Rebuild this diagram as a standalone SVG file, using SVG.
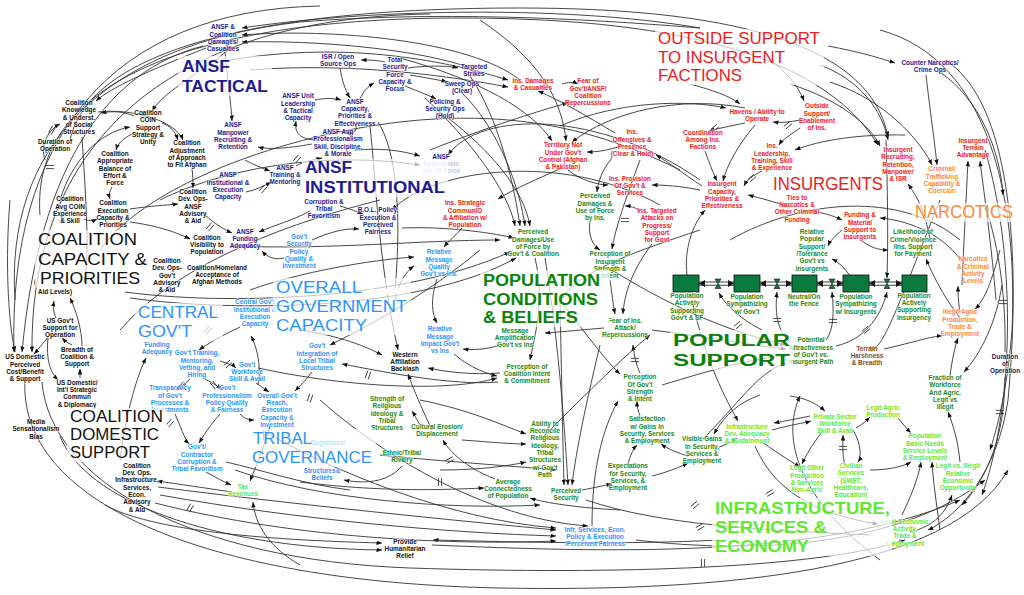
<svg xmlns="http://www.w3.org/2000/svg" width="1024" height="595" viewBox="0 0 1024 595">
<defs>
<marker id="a" viewBox="0 0 10 8" refX="10" refY="4" markerWidth="5.5" markerHeight="4.4" markerUnits="userSpaceOnUse" orient="auto"><path d="M0,0 L10,4 L0,8 z" fill="#111"/></marker>
<path id="dm" d="M-1.6,-4 L-1.6,4 M1.6,-4 L1.6,4"/>
<style>
#connectors path,#connectors use{fill:none;stroke:#333;stroke-width:.9;marker-end:url(#a)}
#connectors .n{marker-end:none}
#connectors use{marker-end:none;stroke:#222;stroke-width:.8}
text{font-family:"Liberation Sans",Arial,Helvetica,sans-serif}
.t{font-size:6.4px;font-weight:bold;text-anchor:middle;paint-order:stroke;stroke:#fff;stroke-width:1.6;stroke-opacity:.6;stroke-linejoin:round}
.k{fill:#111}.nv{fill:#1c1c94}.r{fill:#ee2020}.o{fill:#ff8833}.b{fill:#2b95ff}.g{fill:#178a17}.lg{fill:#5fe830}.br{fill:#8b4a1a}
.fb{fill:#c4c4e6}.fw{fill:#dfe8f2}
.tb{fill:#fff;fill-opacity:.68}
.T{font-size:17px}.TB{font-size:17px;font-weight:bold}
.stock{fill:#0b7a3e;stroke:#111;stroke-width:.8}
.pipe{fill:#fff;stroke:#111;stroke-width:.8}
.valve{fill:#0b7a3e;stroke:#111;stroke-width:.6}
</style>
</defs>
<rect width="1024" height="595" fill="#fff"/>

<g id="connectors">
<path d="M700 28 C560 4,360 10,242 28"/>
<path d="M520 80 C470 40,330 28,242 35"/>
<path d="M465 66 C410 48,310 40,242 42"/>
<path d="M203 46 C110 70,40 160,22 352"/>
<path d="M206 48 C150 70,110 88,96 101"/>
<path d="M228 50 C205 70,165 90,152 111"/>
<path d="M225 52 C228 80,231 105,232 121"/>
<path d="M320 6 C110 10,8 140,14 352"/>
<path d="M430 14 C160 18,30 150,32 352"/>
<path d="M70 140 C90 50,260 8,520 8 C720 8,870 40,888 137"/>
<path d="M40 215 C30 80,200 18,460 18 C660 18,820 50,878 145"/>
<path class="n" d="M15 300 C5 150,100 45,300 22 C450 10,600 20,700 28"/>
<path d="M25 380 C18 500,200 582,500 588 C720 592,950 572,1008 470"/>
<path d="M42 382 C50 480,190 560,410 568 C620 575,820 568,905 540"/>
<path d="M60 436 C85 500,210 548,382 550"/>
<path d="M105 505 C150 530,260 540,382 543"/>
<path d="M432 545 C600 552,820 560,960 500"/>
<path d="M720 540 C620 545,520 542,433 540"/>
<path d="M158 487 C300 505,450 520,556 530"/>
<path d="M160 495 C300 520,450 533,556 536"/>
<path d="M155 503 C300 540,460 545,556 541"/>
<path d="M232 492 C205 488,178 484,157 481"/>
<path d="M300 565 C270 548,255 525,253 502"/>
<path d="M636 540 C760 555,900 545,985 480"/>
<path d="M945 60 C1010 100,1022 250,1008 400 C998 470,960 515,928 530"/>
<path d="M880 30 C990 60,1018 200,1012 330 C1008 380,1000 420,990 450"/>
<path d="M985 150 C1015 250,1016 400,982 495"/>
<path d="M1005 352 C1006 300,1000 250,985 205"/>
<path d="M1005 377 C1005 420,995 470,962 505"/>
<path d="M940 72 C980 100,1000 150,1003 195"/>
<path d="M828 46 C860 52,880 58,895 63"/>
<path d="M926 75 C930 110,935 145,937 165"/>
<path d="M690 84 C712 90,730 96,740 104"/>
<path d="M770 60 C790 75,800 90,804 101"/>
<path d="M820 65 C860 80,882 110,888 140"/>
<path d="M790 84 C840 100,870 125,880 146"/>
<path d="M905 135 C860 134,820 140,795 150"/>
<path d="M962 285 C964 240,966 200,968 161"/>
<path d="M996 300 C992 250,985 200,980 161"/>
<path d="M830 82 C885 100,920 140,932 165"/>
<path d="M930 240 C925 210,916 195,908 184"/>
<path d="M1000 250 C992 280,985 300,975 309"/>
<path d="M800 120 C790 122,782 123,773 122"/>
<path d="M800 128 C790 135,782 140,779 145"/>
<path d="M745 123 C730 126,716 129,709 131"/>
<path d="M755 125 C738 145,727 165,723 181"/>
<path d="M705 151 C710 165,714 175,717 181"/>
<path d="M762 171 C752 176,747 180,744 186"/>
<path d="M700 190 C680 186,665 185,652 185"/>
<path d="M702 186 C684 174,668 162,656 155"/>
<path d="M618 147 C605 151,595 152,587 152"/>
<path d="M612 158 C602 170,598 182,597 192"/>
<path d="M568 170 C580 180,598 185,608 185"/>
<path d="M615 133 C590 118,560 100,538 91"/>
<path d="M562 84 C568 82,574 82,578 84"/>
<path d="M430 150 C480 130,540 110,568 103"/>
<path d="M400 58 C480 80,532 110,552 141"/>
<path d="M480 20 C540 60,562 100,566 141"/>
<path d="M745 108 C680 95,610 112,572 142"/>
<path d="M560 126 C620 100,690 100,726 108"/>
<path d="M230 60 C350 40,450 62,508 80"/>
<path d="M250 70 C350 62,450 76,508 87"/>
<path d="M640 211 C635 207,630 206,625 206"/>
<path d="M790 207 C775 202,760 198,748 195"/>
<path d="M817 212 C828 214,836 217,842 220"/>
<path d="M960 259 C940 232,905 220,880 218"/>
<path d="M862 241 C870 247,878 250,888 250"/>
<path d="M842 230 C835 236,830 241,828 246"/>
<path d="M960 318 C946 300,935 280,926 259"/>
<path d="M850 276 C845 268,838 262,832 259"/>
<path d="M886 140 C888 200,888 248,887 278"/>
<path d="M687 275 C684 250,692 225,705 210"/>
<path d="M762 330 C742 320,726 306,719 293"/>
<path d="M790 342 C776 330,775 310,777 292"/>
<path d="M826 340 C834 330,834 310,832 292"/>
<path d="M836 346 C862 340,880 320,887 292"/>
<path d="M652 330 C700 336,750 345,786 349"/>
<path d="M662 385 C712 370,752 358,786 356"/>
<path d="M702 440 C740 402,758 372,786 363"/>
<path d="M884 349 C915 342,932 336,942 336"/>
<path d="M960 312 C958 300,958 293,958 286"/>
<path d="M950 376 C952 360,955 346,958 338"/>
<path d="M1002 285 C996 322,982 352,964 372"/>
<path d="M960 462 C958 440,953 425,948 412"/>
<path d="M870 470 C890 470,904 466,911 462"/>
<path d="M902 515 C910 498,918 480,921 462"/>
<path d="M940 530 C936 500,933 480,932 462"/>
<path d="M898 418 C904 425,908 430,911 433"/>
<path d="M856 428 C862 425,867 420,870 417"/>
<path d="M790 396 C805 398,816 403,825 411"/>
<path d="M845 465 C842 455,843 445,843 435"/>
<path d="M853 430 C862 445,861 458,858 462"/>
<path d="M762 442 C780 455,795 464,800 467"/>
<path d="M772 430 C790 425,804 423,811 421"/>
<path d="M810 416 C796 419,785 421,774 423"/>
<path d="M822 432 C812 445,806 455,802 464"/>
<path d="M755 446 C770 480,800 512,878 524"/>
<path d="M910 532 C935 526,946 512,952 495"/>
<path d="M719 447 C726 445,733 441,737 438"/>
<path d="M692 300 C705 360,726 400,738 421"/>
<path d="M760 395 C740 402,725 414,714 434"/>
<path d="M688 456 C678 453,668 449,661 444"/>
<path d="M628 464 C630 456,633 449,637 445"/>
<path d="M640 416 C638 411,637 406,637 401"/>
<path d="M652 476 C668 472,680 467,688 463"/>
<path d="M582 490 C598 487,606 485,612 484"/>
<path d="M560 300 C562 400,563 450,564 485"/>
<path d="M545 258 C560 350,566 450,568 485"/>
<path d="M600 345 C582 420,575 460,572 485"/>
<path d="M420 400 C470 410,502 425,526 434"/>
<path d="M462 440 C490 442,510 444,526 444"/>
<path d="M440 470 C480 470,508 466,526 462"/>
<path d="M620 510 C580 508,545 503,530 498"/>
<path d="M495 479 C472 470,452 456,443 440"/>
<path d="M420 425 C416 418,414 414,412 411"/>
<path d="M402 466 C390 480,370 485,344 480"/>
<path d="M380 455 C450 462,500 465,556 470"/>
<path d="M300 482 C380 492,440 490,484 488"/>
<path d="M470 76 C500 120,515 190,520 226"/>
<path d="M462 93 C500 130,520 190,525 226"/>
<path d="M448 118 C490 150,524 190,530 226"/>
<path d="M425 98 C470 140,508 190,515 226"/>
<path d="M590 221 C588 235,592 245,600 250"/>
<path d="M610 280 C612 294,613 304,615 314"/>
<path d="M652 244 C632 270,624 295,623 314"/>
<path d="M640 373 C636 365,634 355,633 345"/>
<path d="M560 300 C590 340,610 365,620 374"/>
<path d="M604 328 C580 330,560 332,545 333"/>
<path d="M500 345 C485 350,472 350,463 349"/>
<path d="M535 258 C545 300,535 335,530 360"/>
<path d="M500 373 C472 375,446 372,428 368"/>
<path d="M258 368 C350 388,450 392,497 378"/>
<path d="M498 382 C452 386,385 372,342 364"/>
<path d="M454 354 C470 368,488 374,497 376"/>
<path d="M437 279 C430 300,432 314,437 323"/>
<path d="M462 228 C455 236,448 242,444 247"/>
<path d="M250 290 C300 272,370 260,414 257"/>
<path d="M395 300 C398 285,405 272,414 266"/>
<path d="M300 330 C340 336,365 346,382 355"/>
<path d="M432 430 C420 405,412 385,408 374"/>
<path d="M402 228 C450 226,498 234,514 238"/>
<path d="M125 292 C220 305,400 302,510 252"/>
<path d="M130 298 C230 312,420 312,516 258"/>
<path d="M232 246 C330 250,420 240,500 240"/>
<path d="M385 62 C376 60,368 60,361 60"/>
<path d="M408 68 C430 65,450 66,458 68"/>
<path d="M410 75 C427 78,440 80,447 82"/>
<path d="M405 86 C420 92,430 96,436 99"/>
<path d="M360 99 C363 92,367 87,374 83"/>
<path d="M340 68 C342 80,345 90,350 98"/>
<path d="M315 100 C325 98,334 98,341 100"/>
<path d="M318 140 C300 140,294 133,296 121"/>
<path d="M356 126 C357 132,352 134,346 133"/>
<path d="M312 144 C290 148,270 150,258 147"/>
<path d="M245 160 C254 165,262 168,270 171"/>
<path d="M296 166 C302 162,312 160,322 158"/>
<path d="M246 192 C256 190,264 186,271 182"/>
<path d="M355 150 C380 148,400 150,420 156"/>
<path d="M340 206 C350 209,358 212,363 214"/>
<path d="M310 211 C294 220,272 226,259 232"/>
<path d="M284 258 C275 260,268 258,262 251"/>
<path d="M312 240 C330 232,345 228,359 229"/>
<path d="M370 126 C376 180,378 260,398 350"/>
<path class="n" d="M378 122 C396 150,402 210,395 290"/>
<path d="M205 215 C215 224,225 230,232 233"/>
<path d="M45 160 C40 145,48 130,60 124"/>
<path d="M98 112 C130 108,175 120,183 140"/>
<path d="M134 116 C122 111,112 111,101 113"/>
<path d="M162 123 C170 126,175 131,178 140"/>
<path d="M132 134 C124 138,118 143,116 150"/>
<path d="M60 200 C72 160,100 132,130 127"/>
<path d="M112 187 C109 192,109 196,110 199"/>
<path d="M192 169 C193 176,193 183,193 188"/>
<path d="M84 219 C88 221,93 221,97 219"/>
<path d="M130 209 C150 206,168 205,178 204"/>
<path d="M130 222 C160 226,180 234,190 239"/>
<path d="M50 335 C42 344,37 351,34 354"/>
<path d="M72 345 C68 343,64 340,62 338"/>
<path d="M56 318 C53 311,53 307,54 301"/>
<path d="M82 346 C82 330,76 310,70 298"/>
<path d="M80 378 C80 375,80 372,80 369"/>
<path d="M48 338 C46 360,50 372,58 380"/>
<path d="M120 460 C125 420,135 380,146 358"/>
<path d="M82 137 C86 200,90 260,84 283"/>
<path d="M10 200 C5 260,8 320,15 352"/>
<path d="M220 361 C227 363,234 366,236 368"/>
<path d="M190 379 C185 384,179 388,176 390"/>
<path d="M205 379 C214 384,219 387,222 389"/>
<path d="M240 327 C225 334,207 344,199 350"/>
<path d="M258 385 C262 365,256 345,251 336"/>
<path d="M175 414 C180 425,185 440,189 444"/>
<path d="M220 414 C210 425,202 438,199 443"/>
<path d="M206 472 C215 477,224 482,231 485"/>
<path d="M270 426 C263 450,256 466,250 481"/>
<path class="n" d="M226 462 C262 470,302 484,350 490"/>
<path d="M256 383 C262 387,266 390,269 392"/>
<path d="M312 372 C306 380,300 386,295 391"/>
<path d="M240 414 C244 418,248 420,254 420"/>
<path d="M700 180 C600 110,480 110,448 155"/>
<path d="M660 205 C560 150,430 170,392 210"/>
<path d="M262 430 C330 470,450 520,556 528"/>
<path d="M235 470 C320 500,450 510,540 505"/>
<path d="M320 400 C400 470,500 520,588 526"/>
<path d="M592 526 C592 470,602 430,618 401"/>
<path class="n" d="M586 500 C660 525,760 530,870 535"/>
<path d="M612 270 C660 300,720 330,786 345"/>
<path d="M562 168 C535 180,512 190,498 199"/>
<path d="M640 160 C625 200,615 230,612 249"/>
<path class="n" d="M100 250 C150 180,300 130,420 120 C520 112,600 130,680 170"/>
<path class="n" d="M120 330 C180 260,300 220,380 200"/>
<path d="M160 200 C220 170,320 150,420 165"/>
<path d="M480 250 C420 300,360 330,330 345"/>
<path d="M700 230 C640 250,580 270,560 300"/>
<path d="M540 440 C580 400,620 360,650 335"/>
<path class="n" d="M730 240 C800 200,900 190,960 240"/>
<path d="M880 560 C800 500,780 440,800 396"/>
<path d="M940 200 C900 300,880 360,870 346"/>
<rect class="pipe" x="699" y="282" width="35" height="3.2"/>
<rect class="pipe" x="760" y="282" width="32" height="3.2"/>
<rect class="pipe" x="817" y="282" width="26" height="3.2"/>
<rect class="pipe" x="869" y="282" width="33" height="3.2"/>
<path style="stroke:none;marker-end:none;fill:#111" d="M699 283.6 l6 -3.5 v7z M734 283.6 l-6 -3.5 v7z M760 283.6 l6 -3.5 v7z M792 283.6 l-6 -3.5 v7z M817 283.6 l6 -3.5 v7z M843 283.6 l-6 -3.5 v7z M869 283.6 l6 -3.5 v7z M902 283.6 l-6 -3.5 v7z"/>
<use href="#dm" transform="translate(52,130) rotate(30)"/>
<use href="#dm" transform="translate(50,167) rotate(90)"/>
<use href="#dm" transform="translate(210,227) rotate(40)"/>
<use href="#dm" transform="translate(297,159) rotate(40)"/>
<use href="#dm" transform="translate(263,189) rotate(40)"/>
<use href="#dm" transform="translate(208,330) rotate(40)"/>
<use href="#dm" transform="translate(228,364) rotate(50)"/>
<use href="#dm" transform="translate(182,386) rotate(40)"/>
<use href="#dm" transform="translate(214,385) rotate(-40)"/>
<use href="#dm" transform="translate(170,423) rotate(40)"/>
<use href="#dm" transform="translate(190,508) rotate(30)"/>
<use href="#dm" transform="translate(368,375) rotate(20)"/>
<use href="#dm" transform="translate(310,398) rotate(20)"/>
<use href="#dm" transform="translate(265,436) rotate(0)"/>
<use href="#dm" transform="translate(715,128) rotate(50)"/>
<use href="#dm" transform="translate(788,125) rotate(50)"/>
<use href="#dm" transform="translate(752,178) rotate(50)"/>
<use href="#dm" transform="translate(625,220) rotate(90)"/>
<use href="#dm" transform="translate(635,360) rotate(90)"/>
<use href="#dm" transform="translate(738,325) rotate(50)"/>
<use href="#dm" transform="translate(777,320) rotate(90)"/>
<use href="#dm" transform="translate(833,321) rotate(90)"/>
<use href="#dm" transform="translate(866,330) rotate(50)"/>
<use href="#dm" transform="translate(1003,302) rotate(90)"/>
<use href="#dm" transform="translate(450,460) rotate(60)"/>
<use href="#dm" transform="translate(440,482) rotate(0)"/>
<use href="#dm" transform="translate(695,505) rotate(50)"/>
<use href="#dm" transform="translate(700,527) rotate(60)"/>
<use href="#dm" transform="translate(703,563) rotate(0)"/>
<use href="#dm" transform="translate(843,448) rotate(90)"/>
<use href="#dm" transform="translate(770,493) rotate(60)"/>
<use href="#dm" transform="translate(1000,412) rotate(90)"/>
</g>

<g id="stocks">
<g id="s_gov"><rect class="stock" x="673" y="275" width="26" height="17"/><text class="t g" x="687" y="298"><tspan x="687">Population</tspan><tspan x="687" dy="7.35">Actively</tspan><tspan x="687" dy="7.35">Supporting</tspan><tspan x="687" dy="7.35">Gov't &amp; SF</tspan></text></g>
<g id="s_symgov"><rect class="stock" x="734" y="275" width="26" height="17"/><text class="t g" x="747" y="299"><tspan x="747">Population</tspan><tspan x="747" dy="7.35">Sympathizing</tspan><tspan x="747" dy="7.35">w/ Gov't</tspan></text></g>
<g id="s_neutral"><rect class="stock" x="792" y="275" width="25" height="17"/><text class="t g" x="804" y="299"><tspan x="804">Neutral/On</tspan><tspan x="804" dy="7.35">the Fence</tspan></text></g>
<g id="s_symins"><rect class="stock" x="843" y="275" width="26" height="17"/><text class="t g" x="856" y="299"><tspan x="856">Population</tspan><tspan x="856" dy="7.35">Sympathizing</tspan><tspan x="856" dy="7.35">w/ Insurgents</tspan></text></g>
<g id="s_ins"><rect class="stock" x="902" y="275" width="25" height="17"/><text class="t g" x="914" y="297.5"><tspan x="914">Population</tspan><tspan x="914" dy="7.35">Actively</tspan><tspan x="914" dy="7.35">Supporting</tspan><tspan x="914" dy="7.35">Insurgency</tspan></text></g>
<polygon class="valve" points="715,279 721,279 715,288.5 721,288.5"/>
<polygon class="valve" points="774,279 780,279 774,288.5 780,288.5"/>
<polygon class="valve" points="829,279 835,279 829,288.5 835,288.5"/>
<polygon class="valve" points="884,279 890,279 884,288.5 890,288.5"/>
</g>

<g id="nodes">
<g id="n_ck"><text class="t k" x="79" y="104.8"><tspan x="79">Coalition</tspan><tspan x="79" dy="7.35">Knowledge</tspan><tspan x="79" dy="7.35">&amp; Underst.</tspan><tspan x="79" dy="7.35">of Social</tspan><tspan x="79" dy="7.35">Structures</tspan></text></g>
<g id="n_ccoin"><text class="t k" x="148" y="114.8"><tspan x="148">Coalition</tspan><tspan x="148" dy="7.35">COIN</tspan><tspan x="148" dy="7.35">Support</tspan><tspan x="148" dy="7.35">Strategy &amp;</tspan><tspan x="148" dy="7.35">Unity</tspan></text></g>
<g id="n_dur"><text class="t k" x="55" y="144.1"><tspan x="55">Duration of</tspan><tspan x="55" dy="7.35">Operation</tspan></text></g>
<g id="n_cab"><text class="t k" x="115" y="155.8"><tspan x="115">Coalition</tspan><tspan x="115" dy="7.35">Appropriate</tspan><tspan x="115" dy="7.35">Balance of</tspan><tspan x="115" dy="7.35">Effort &amp;</tspan><tspan x="115" dy="7.35">Force</tspan></text></g>
<g id="n_cadj"><text class="t k" x="187" y="145.2"><tspan x="187">Coalition</tspan><tspan x="187" dy="7.35">Adjustment</tspan><tspan x="187" dy="7.35">of Approach</tspan><tspan x="187" dy="7.35">to Fit Afghan</tspan></text></g>
<g id="n_cdoa"><text class="t k" x="193" y="193.8"><tspan x="193">Coalition</tspan><tspan x="193" dy="7.35">Dev. Ops-</tspan><tspan x="193" dy="7.35">ANSF</tspan><tspan x="193" dy="7.35">Advisory</tspan><tspan x="193" dy="7.35">&amp; Aid</tspan></text></g>
<g id="n_cavg"><text class="t k" x="70" y="201.2"><tspan x="70">Coalition</tspan><tspan x="70" dy="7.35">Avg COIN</tspan><tspan x="70" dy="7.35">Experience</tspan><tspan x="70" dy="7.35">&amp; Skill</tspan></text></g>
<g id="n_cexe"><text class="t k" x="113" y="205.2"><tspan x="113">Coalition</tspan><tspan x="113" dy="7.35">Execution</tspan><tspan x="113" dy="7.35">Capacity &amp;</tspan><tspan x="113" dy="7.35">Priorities</tspan></text></g>
<g id="n_cvis"><text class="t k" x="207" y="239.6"><tspan x="207">Coalition</tspan><tspan x="207" dy="7.35">Visibility to</tspan><tspan x="207" dy="7.35">Population</tspan></text></g>
<g id="n_cdog"><text class="t k" x="167" y="262.8"><tspan x="167">Coalition</tspan><tspan x="167" dy="7.35">Dev. Ops-</tspan><tspan x="167" dy="7.35">Gov't</tspan><tspan x="167" dy="7.35">Advisory</tspan><tspan x="167" dy="7.35">&amp; Aid</tspan></text></g>
<g id="n_chom"><text class="t k" x="217" y="269.6"><tspan x="217">Coalition/Homeland</tspan><tspan x="217" dy="7.35">Acceptance of</tspan><tspan x="217" dy="7.35">Afghan Methods</tspan></text></g>
<g id="n_aid"><text class="t k" x="35" y="284">(</text><text class="t k" x="55" y="294">Aid Levels)</text></g>
<g id="n_usg"><text class="t k" x="60" y="322.6"><tspan x="60">US Gov't</tspan><tspan x="60" dy="7.35">Support for</tspan><tspan x="60" dy="7.35">Operation</tspan></text></g>
<g id="n_brd"><text class="t k" x="77" y="351.7"><tspan x="77">Breadth of</tspan><tspan x="77" dy="7.35">Coalition &amp;</tspan><tspan x="77" dy="7.35">Support</tspan></text></g>
<g id="n_usd"><text class="t k" x="25" y="359.2"><tspan x="25">US Domestic</tspan><tspan x="25" dy="7.35">Perceived</tspan><tspan x="25" dy="7.35">Cost/Benefit</tspan><tspan x="25" dy="7.35">&amp; Support</tspan></text></g>
<g id="n_usdi"><text class="t k" x="77" y="384.5"><tspan x="77">US Domestic/</tspan><tspan x="77" dy="7.35">Int'l Strategic</tspan><tspan x="77" dy="7.35">Commun</tspan><tspan x="77" dy="7.35">&amp; Diplomacy</tspan></text></g>
<g id="n_med"><text class="t k" x="36" y="424"><tspan x="36">Media</tspan><tspan x="36" dy="7.35">Sensationalism</tspan><tspan x="36" dy="7.35">Bias</tspan></text></g>
<g id="n_cdoi"><text class="t k" x="137" y="467.5"><tspan x="137">Coalition</tspan><tspan x="137" dy="7.35">Dev. Ops.</tspan><tspan x="137" dy="7.35">Infrastructure,</tspan><tspan x="137" dy="7.35">Services,</tspan><tspan x="137" dy="7.35">Econ.</tspan><tspan x="137" dy="7.35">Advisory</tspan><tspan x="137" dy="7.35">&amp; Aid</tspan></text></g>
<g id="n_wab"><text class="t k" x="405" y="356.6"><tspan x="405">Western</tspan><tspan x="405" dy="7.35">Affiliation</tspan><tspan x="405" dy="7.35">Backlash</tspan></text></g>
<g id="n_hum"><text class="t k" x="405" y="543.6"><tspan x="405">Provide</tspan><tspan x="405" dy="7.35">Humanitarian</tspan><tspan x="405" dy="7.35">Relief</tspan></text></g>
<g id="n_dur2"><text class="t" style="fill:#22224f" x="1005" y="358.6"><tspan x="1005">Duration</tspan><tspan x="1005" dy="7.35">of</tspan><tspan x="1005" dy="7.35">Operation</tspan></text></g>

<g id="n_adc"><text class="t nv" x="223" y="29.2"><tspan x="223">ANSF &amp;</tspan><tspan x="223" dy="7.35">Coalition</tspan><tspan x="223" dy="7.35">Damages/</tspan><tspan x="223" dy="7.35">Casualties</tspan></text></g>
<g id="n_isr"><text class="t nv" x="338" y="59.1"><tspan x="338">ISR / Open</tspan><tspan x="338" dy="7.35">Source Ops</tspan></text></g>
<g id="n_tsf"><text class="t nv" x="395" y="61.8"><tspan x="395">Total</tspan><tspan x="395" dy="7.35">Security</tspan><tspan x="395" dy="7.35">Force</tspan><tspan x="395" dy="7.35">Capacity &amp;</tspan><tspan x="395" dy="7.35">Focus</tspan></text></g>
<g id="n_tgt"><text class="t nv" x="474" y="69.1"><tspan x="474">Targeted</tspan><tspan x="474" dy="7.35">Strikes</tspan></text></g>
<g id="n_swp"><text class="t nv" x="462" y="86.1"><tspan x="462">Sweep Ops</tspan><tspan x="462" dy="7.35">(Clear)</tspan></text></g>
<g id="n_pol"><text class="t nv" x="445" y="103.6"><tspan x="445">Policing &amp;</tspan><tspan x="445" dy="7.35">Security Ops</tspan><tspan x="445" dy="7.35">(Hold)</tspan></text></g>
<g id="n_aul"><text class="t nv" x="298" y="98.2"><tspan x="298">ANSF Unit</tspan><tspan x="298" dy="7.35">Leadership</tspan><tspan x="298" dy="7.35">&amp; Tactical</tspan><tspan x="298" dy="7.35">Capacity</tspan></text></g>
<g id="n_acap"><text class="t nv" x="355" y="103.5"><tspan x="355">ANSF</tspan><tspan x="355" dy="7.35">Capacity,</tspan><tspan x="355" dy="7.35">Priorities &amp;</tspan><tspan x="355" dy="7.35">Effectiveness</tspan></text></g>
<g id="n_apro"><text class="t nv" x="338" y="133.8"><tspan x="338">ANSF Avg</tspan><tspan x="338" dy="7.35">Professionalism</tspan><tspan x="338" dy="7.35">Skill, Discipline,</tspan><tspan x="338" dy="7.35">&amp; Morale</tspan></text></g>
<g id="n_atrn"><text class="t nv" x="285" y="169.6"><tspan x="285">ANSF</tspan><tspan x="285" dy="7.35">Training &amp;</tspan><tspan x="285" dy="7.35">Mentoring</tspan></text></g>
<g id="n_aman"><text class="t nv" x="233" y="127.2"><tspan x="233">ANSF</tspan><tspan x="233" dy="7.35">Manpower</tspan><tspan x="233" dy="7.35">Recruiting &amp;</tspan><tspan x="233" dy="7.35">Retention</tspan></text></g>
<g id="n_ains"><text class="t nv" x="228" y="177.2"><tspan x="228">ANSF</tspan><tspan x="228" dy="7.35">Institutional &amp;</tspan><tspan x="228" dy="7.35">Execution</tspan><tspan x="228" dy="7.35">Capacity</tspan></text></g>
<g id="n_aauf"><text class="t" x="441" y="158.6"><tspan class="nv" x="441">ANSF</tspan><tspan class="fb" x="441" dy="7.35">Appropriate</tspan><tspan class="fb" x="441" dy="7.35">Use of Force</tspan></text></g>
<g id="n_acor"><text class="t nv" x="324" y="203.6"><tspan x="324">Corruption &amp;</tspan><tspan x="324" dy="7.35">Tribal</tspan><tspan x="324" dy="7.35">Favoritism</tspan></text></g>
<g id="n_arol"><text class="t nv" x="378" y="212.2"><tspan x="378">R.O.L. Policy,</tspan><tspan x="378" dy="7.35">Execution &amp;</tspan><tspan x="378" dy="7.35">Perceived</tspan><tspan x="378" dy="7.35">Fairness</tspan></text></g>
<g id="n_afun"><text class="t nv" x="245" y="233.6"><tspan x="245">ANSF</tspan><tspan x="245" dy="7.35">Funding</tspan><tspan x="245" dy="7.35">Adequacy</tspan></text></g>
<g id="n_cn"><text class="t nv" x="930" y="65.1"><tspan x="930">Counter Narcotics/</tspan><tspan x="930" dy="7.35">Crime Ops</tspan></text></g>

<g id="n_idc"><text class="t r" x="533" y="83.1"><tspan x="533">Ins. Damages</tspan><tspan x="533" dy="7.35">&amp; Casualties</tspan></text></g>
<g id="n_fear"><text class="t r" x="588" y="83.2"><tspan x="588">Fear of</tspan><tspan x="588" dy="7.35">Gov't/ANSF/</tspan><tspan x="588" dy="7.35">Coalition</tspan><tspan x="588" dy="7.35">Repercussions</tspan></text></g>
<g id="n_hav"><text class="t r" x="757" y="114.1"><tspan x="757">Havens / Ability to</tspan><tspan x="757" dy="7.35">Operate</tspan></text></g>
<g id="n_out"><text class="t r" x="817" y="108.2"><tspan x="817">Outside</tspan><tspan x="817" dy="7.35">Support/</tspan><tspan x="817" dy="7.35">Enablement</tspan><tspan x="817" dy="7.35">of Ins.</tspan></text></g>
<g id="n_coord"><text class="t r" x="703" y="134.6"><tspan x="703">Coordination</tspan><tspan x="703" dy="7.35">Among Ins.</tspan><tspan x="703" dy="7.35">Factions</tspan></text></g>
<g id="n_ioff"><text class="t r" x="632" y="134.2"><tspan x="632">Ins.</tspan><tspan x="632" dy="7.35">Offensives &amp;</tspan><tspan x="632" dy="7.35">Presence</tspan><tspan x="632" dy="7.35">(Clear &amp; Hold)</tspan></text></g>
<g id="n_terr"><text class="t r" x="563" y="147.2"><tspan x="563">Territory Not</tspan><tspan x="563" dy="7.35">Under Gov't</tspan><tspan x="563" dy="7.35">Control (Afghan</tspan><tspan x="563" dy="7.35">&amp; Pakistan)</tspan></text></g>
<g id="n_iprov"><text class="t r" x="630" y="180.6"><tspan x="630">Ins. Provision</tspan><tspan x="630" dy="7.35">Of Gov't &amp;</tspan><tspan x="630" dy="7.35">Services</tspan></text></g>
<g id="n_icap"><text class="t r" x="722" y="186.2"><tspan x="722">Insurgent</tspan><tspan x="722" dy="7.35">Capacity,</tspan><tspan x="722" dy="7.35">Priorities &amp;</tspan><tspan x="722" dy="7.35">Effectiveness</tspan></text></g>
<g id="n_ilead"><text class="t r" x="772" y="148.2"><tspan x="772">Ins.</tspan><tspan x="772" dy="7.35">Leadership,</tspan><tspan x="772" dy="7.35">Training, Skill</tspan><tspan x="772" dy="7.35">&amp; Experience</tspan></text></g>
<g id="n_irec"><text class="t r" x="898" y="151.8"><tspan x="898">Insurgent</tspan><tspan x="898" dy="7.35">Recruiting,</tspan><tspan x="898" dy="7.35">Retention,</tspan><tspan x="898" dy="7.35">Manpower</tspan><tspan x="898" dy="7.35">&amp; ISR</tspan></text></g>
<g id="n_iter"><text class="t r" x="973" y="142.6"><tspan x="973">Insurgent</tspan><tspan x="973" dy="7.35">Terrain</tspan><tspan x="973" dy="7.35">Advantage</tspan></text></g>
<g id="n_ties"><text class="t r" x="797" y="199.5"><tspan x="797">Ties to</tspan><tspan x="797" dy="7.35">Narcotics &amp;</tspan><tspan x="797" dy="7.35">Other Criminal</tspan><tspan x="797" dy="7.35">Funding</tspan></text></g>
<g id="n_fund"><text class="t r" x="860" y="217.2"><tspan x="860">Funding &amp;</tspan><tspan x="860" dy="7.35">Material</tspan><tspan x="860" dy="7.35">Support to</tspan><tspan x="860" dy="7.35">Insurgents</tspan></text></g>
<g id="n_iatt"><text class="t r" x="657" y="212.8"><tspan x="657">Ins. Targeted</tspan><tspan x="657" dy="7.35">Attacks on</tspan><tspan x="657" dy="7.35">Progress/</tspan><tspan x="657" dy="7.35">Support</tspan><tspan x="657" dy="7.35">for Govt</tspan></text></g>
<g id="n_istr"><text class="t r" x="465" y="205.2"><tspan x="465">Ins. Strategic</tspan><tspan x="465" dy="7.35">CommunIO</tspan><tspan x="465" dy="7.35">&amp; Affiliation w/</tspan><tspan x="465" dy="7.35">Population</tspan></text></g>

<g id="n_crim"><text class="t o" x="942" y="171.2"><tspan x="942">Criminal/</tspan><tspan x="942" dy="7.35">Trafficking</tspan><tspan x="942" dy="7.35">Capability &amp;</tspan><tspan x="942" dy="7.35">Coercion</tspan></text></g>
<g id="n_narc"><text class="t o" x="973" y="261.2"><tspan x="973">Narcotics</tspan><tspan x="973" dy="7.35">&amp; Criminal</tspan><tspan x="973" dy="7.35">Activity</tspan><tspan x="973" dy="7.35">Levels</tspan></text></g>
<g id="n_illeg"><text class="t o" x="960" y="314.2"><tspan x="960">Illegit Agric</tspan><tspan x="960" dy="7.35">Production,</tspan><tspan x="960" dy="7.35">Trade &amp;</tspan><tspan x="960" dy="7.35">Employment</tspan></text></g>

<g id="n_pdi"><text class="t g" x="595" y="198.2"><tspan x="595">Perceived</tspan><tspan x="595" dy="7.35">Damages &amp;</tspan><tspan x="595" dy="7.35">Use of Force</tspan><tspan x="595" dy="7.35">by Ins.</tspan></text></g>
<g id="n_pdg"><text class="t g" x="533" y="234.2"><tspan x="533">Perceived</tspan><tspan x="533" dy="7.35">Damages/Use</tspan><tspan x="533" dy="7.35">of Force by</tspan><tspan x="533" dy="7.35">Gov't &amp; Coalition</tspan></text></g>
<g id="n_pins"><text class="t g" x="610" y="256.2"><tspan x="610">Perception of</tspan><tspan x="610" dy="7.35">Insurgent</tspan><tspan x="610" dy="7.35">Strength &amp;</tspan><tspan x="610" dy="7.35">Intent</tspan></text></g>
<g id="n_msg"><text class="t g" x="515" y="332.6"><tspan x="515">Message</tspan><tspan x="515" dy="7.35">Amplification</tspan><tspan x="515" dy="7.35">Gov't vs Ins</tspan></text></g>
<g id="n_pcol"><text class="t g" x="527" y="368.6"><tspan x="527">Perception of</tspan><tspan x="527" dy="7.35">Coalition Intent</tspan><tspan x="527" dy="7.35">&amp; Commitment</tspan></text></g>
<g id="n_feari"><text class="t g" x="625" y="322.6"><tspan x="625">Fear of Ins.</tspan><tspan x="625" dy="7.35">Attack/</tspan><tspan x="625" dy="7.35">Repercussions</tspan></text></g>
<g id="n_pgov"><text class="t g" x="640" y="379.2"><tspan x="640">Perception</tspan><tspan x="640" dy="7.35">Of Gov't</tspan><tspan x="640" dy="7.35">Strength</tspan><tspan x="640" dy="7.35">&amp; Intent</tspan></text></g>
<g id="n_rps"><text class="t g" x="812" y="234"><tspan x="812">Relative</tspan><tspan x="812" dy="7.35">Popular</tspan><tspan x="812" dy="7.35">Support/</tspan><tspan x="812" dy="7.35">/Tolerance</tspan><tspan x="812" dy="7.35">Gov't vs</tspan><tspan x="812" dy="7.35">Insurgents</tspan></text></g>
<g id="n_lik"><text class="t g" x="913" y="234.2"><tspan x="913">Likelihood of</tspan><tspan x="913" dy="7.35">Crime/Violence</tspan><tspan x="913" dy="7.35">/Ins. Support</tspan><tspan x="913" dy="7.35">for Payment</tspan></text></g>
<g id="n_pot"><text class="t g" x="811" y="342.2"><tspan x="811">Potential</tspan><tspan x="811" dy="7.35">Attractiveness</tspan><tspan x="811" dy="7.35">of Gov't vs.</tspan><tspan x="811" dy="7.35">Insurgent Path</tspan></text></g>
<g id="n_frac"><text class="t g" x="945" y="379.8"><tspan x="945">Fraction of</tspan><tspan x="945" dy="7.35">Workforce</tspan><tspan x="945" dy="7.35">And Agric.</tspan><tspan x="945" dy="7.35">Legit vs</tspan><tspan x="945" dy="7.35">Illegit</tspan></text></g>
<g id="n_srel"><text class="t g" x="387" y="400.8"><tspan x="387">Strength of</tspan><tspan x="387" dy="7.35">Religious</tspan><tspan x="387" dy="7.35">Ideology &amp;</tspan><tspan x="387" dy="7.35">Tribal</tspan><tspan x="387" dy="7.35">Structures</tspan></text></g>
<g id="n_cult"><text class="t g" x="437" y="429.1"><tspan x="437">Cultural Erosion/</tspan><tspan x="437" dy="7.35">Displacement</tspan></text></g>
<g id="n_eth"><text class="t g" x="402" y="455.1"><tspan x="402">Ethnic/Tribal</tspan><tspan x="402" dy="7.35">Rivalry</tspan></text></g>
<g id="n_abil"><text class="t g" x="545" y="425.5"><tspan x="545">Ability to</tspan><tspan x="545" dy="7.35">Reconcile</tspan><tspan x="545" dy="7.35">Religious</tspan><tspan x="545" dy="7.35">Ideology,</tspan><tspan x="545" dy="7.35">Tribal</tspan><tspan x="545" dy="7.35">Structures</tspan><tspan x="545" dy="7.35">w/ Gov't</tspan><tspan x="545" dy="7.35">Path</tspan></text></g>
<g id="n_psec"><text class="t g" x="566" y="493.1"><tspan x="566">Perceived</tspan><tspan x="566" dy="7.35">Security</tspan></text></g>
<g id="n_sat"><text class="t g" x="647" y="421.2"><tspan x="647">Satisfaction</tspan><tspan x="647" dy="7.35">w/ Gains in</tspan><tspan x="647" dy="7.35">Security, Services</tspan><tspan x="647" dy="7.35">&amp; Employment</tspan></text></g>
<g id="n_vis"><text class="t g" x="702" y="441.2"><tspan x="702">Visible Gains</tspan><tspan x="702" dy="7.35">In Security,</tspan><tspan x="702" dy="7.35">Services &amp;</tspan><tspan x="702" dy="7.35">Employment</tspan></text></g>
<g id="n_exp"><text class="t g" x="628" y="468.2"><tspan x="628">Expectations</tspan><tspan x="628" dy="7.35">for Security,</tspan><tspan x="628" dy="7.35">Services, &amp;</tspan><tspan x="628" dy="7.35">Employment</tspan></text></g>
<g id="n_avg"><text class="t g" x="508" y="483.6"><tspan x="508">Average</tspan><tspan x="508" dy="7.35">Connectedness</tspan><tspan x="508" dy="7.35">of Population</tspan></text></g>

<g id="n_cgi"><text class="t b" x="255" y="304.2"><tspan x="255">Central Gov't</tspan><tspan x="255" dy="7.35">Institutional &amp;</tspan><tspan x="255" dy="7.35">Execution</tspan><tspan x="255" dy="7.35">Capacity</tspan></text></g>
<g id="n_fadq"><text class="t b" x="157" y="346.5"><tspan x="157">Funding</tspan><tspan x="157" dy="7.35">Adequacy</tspan></text></g>
<g id="n_gtr"><text class="t b" x="197" y="355.2"><tspan x="197">Gov't Training,</tspan><tspan x="197" dy="7.35">Mentoring,</tspan><tspan x="197" dy="7.35">Vetting, and</tspan><tspan x="197" dy="7.35">Hiring</tspan></text></g>
<g id="n_gwf"><text class="t b" x="247" y="366.6"><tspan x="247">Gov't</tspan><tspan x="247" dy="7.35">Workforce</tspan><tspan x="247" dy="7.35">Skill &amp; Avail</tspan></text></g>
<g id="n_trn"><text class="t b" x="170" y="390.2"><tspan x="170">Transparency</tspan><tspan x="170" dy="7.35">of Gov't</tspan><tspan x="170" dy="7.35">Processes &amp;</tspan><tspan x="170" dy="7.35">Investments</tspan></text></g>
<g id="n_gpr"><text class="t b" x="227" y="390.2"><tspan x="227">Gov't</tspan><tspan x="227" dy="7.35">Professionalism</tspan><tspan x="227" dy="7.35">Policy Quality</tspan><tspan x="227" dy="7.35">&amp; Fairness</tspan></text></g>
<g id="n_gcon"><text class="t b" x="197" y="449.2"><tspan x="197">Gov't/</tspan><tspan x="197" dy="7.35">Contractor</tspan><tspan x="197" dy="7.35">Corruption &amp;</tspan><tspan x="197" dy="7.35">Tribal Favoritism</tspan></text></g>
<g id="n_gsec"><text class="t b" x="299" y="238.8"><tspan x="299">Gov't</tspan><tspan x="299" dy="7.35">Security</tspan><tspan x="299" dy="7.35">Policy</tspan><tspan x="299" dy="7.35">Quality &amp;</tspan><tspan x="299" dy="7.35">Investment</tspan></text></g>
<g id="n_rmq"><text class="t b" x="439" y="254.2"><tspan x="439">Relative</tspan><tspan x="439" dy="7.35">Message</tspan><tspan x="439" dy="7.35">Quality</tspan><tspan x="439" dy="7.35">Gov't vs Ins.</tspan></text></g>
<g id="n_rmi"><text class="t b" x="440" y="331.2"><tspan x="440">Relative</tspan><tspan x="440" dy="7.35">Message</tspan><tspan x="440" dy="7.35">Impact Gov't</tspan><tspan x="440" dy="7.35">vs Ins</tspan></text></g>
<g id="n_gint"><text class="t b" x="317" y="348.2"><tspan x="317">Gov't</tspan><tspan x="317" dy="7.35">Integration of</tspan><tspan x="317" dy="7.35">Local Tribal</tspan><tspan x="317" dy="7.35">Structures</tspan></text></g>
<g id="n_ogr"><text class="t b" x="277" y="397.5"><tspan x="277">Overall Gov't</tspan><tspan x="277" dy="7.35">Reach,</tspan><tspan x="277" dy="7.35">Execution</tspan><tspan x="277" dy="7.35">Capacity &amp;</tspan><tspan x="277" dy="7.35">Investment</tspan></text></g>
<g id="n_tcog"><text class="t b" x="328" y="444.5">Cognitions/</text><text class="t b" x="322" y="473"><tspan x="322">Structures&amp;</tspan><tspan x="322" dy="7.35">Beliefs</tspan></text></g>
<g id="n_gansf"><text class="t fw" x="387" y="294">Gov't/ANSF</text></g>
<g id="n_infr"><text class="t b" x="595" y="531.6"><tspan x="595">Infr, Services, Econ.</tspan><tspan x="595" dy="7.35">Policy &amp; Execution</tspan><tspan x="595" dy="7.35">/Perceived Fairness</tspan></text></g>

<g id="n_tax"><text class="t lg" x="243" y="489.1"><tspan x="243">Tax</tspan><tspan x="243" dy="7.35">Revenues</tspan></text></g>
<g id="n_infd"><text class="t lg" x="747" y="428.6"><tspan x="747">Infrastructure</tspan><tspan x="747" dy="7.35">Dev. Adequacy</tspan><tspan x="747" dy="7.35">&amp; Sustainment</tspan></text></g>
<g id="n_priv"><text class="t lg" x="835" y="418.6"><tspan x="835">Private Sector</tspan><tspan x="835" dy="7.35">Workforce</tspan><tspan x="835" dy="7.35">Skill &amp; Avail</tspan></text></g>
<g id="n_lag"><text class="t lg" x="883" y="410.1"><tspan x="883">Legit Agric</tspan><tspan x="883" dy="7.35">Production</tspan></text></g>
<g id="n_pbn"><text class="t lg" x="925" y="438.2"><tspan x="925">Population</tspan><tspan x="925" dy="7.35">Basic Needs</tspan><tspan x="925" dy="7.35">Service Levels</tspan><tspan x="925" dy="7.35">&amp; Employment</tspan></text></g>
<g id="n_lvi"><text class="t lg" x="958" y="468.2"><tspan x="958">Legit vs. Illegit</tspan><tspan x="958" dy="7.35">Relative</tspan><tspan x="958" dy="7.35">Economic</tspan><tspan x="958" dy="7.35">Opportunity</tspan></text></g>
<g id="n_lop"><text class="t lg" x="807" y="470.2"><tspan x="807">Legit Other</tspan><tspan x="807" dy="7.35">Production</tspan><tspan x="807" dy="7.35">&amp; Services</tspan><tspan x="807" dy="7.35">Non-Agric</tspan></text></g>
<g id="n_civ"><text class="t lg" x="851" y="468"><tspan x="851">Civilian</tspan><tspan x="851" dy="7.35">Services</tspan><tspan x="851" dy="7.35">(SWET,</tspan><tspan x="851" dy="7.35">Healthcare,</tspan><tspan x="851" dy="7.35">Education)</tspan></text></g>
<g id="n_leg"><text class="t lg" x="905" y="523.5"><tspan x="905">Legit Economic</tspan><tspan x="905" dy="7.35">Activity,</tspan><tspan x="905" dy="7.35">Trade &amp;</tspan><tspan x="905" dy="7.35">Employment</tspan></text></g>
<g id="n_terh"><text class="t br" x="867" y="350.6"><tspan x="867">Terrain</tspan><tspan x="867" dy="7.35">Harshness</tspan><tspan x="867" dy="7.35">&amp; Breadth</tspan></text></g>
</g>

<g id="titles">
<rect class="tb" x="178" y="56" width="94" height="40" rx="3"/>
<text class="TB nv" style="font-size:17.4px" x="182" y="72" textLength="48" lengthAdjust="spacingAndGlyphs">ANSF</text>
<text class="TB nv" style="font-size:17.4px" x="182" y="92" textLength="86" lengthAdjust="spacingAndGlyphs">TACTICAL</text>
<rect class="tb" x="302" y="159" width="146" height="38" rx="3"/>
<text class="TB nv" style="font-size:17.4px" x="305" y="173" textLength="47" lengthAdjust="spacingAndGlyphs">ANSF</text>
<text class="TB nv" style="font-size:17.4px" x="305" y="193" textLength="140" lengthAdjust="spacingAndGlyphs">INSTITUTIONAL</text>
<rect class="tb" x="655" y="29" width="169" height="56" rx="3"/>
<text class="T r" style="font-size:16.1px" x="658" y="44" textLength="162" lengthAdjust="spacingAndGlyphs">OUTSIDE SUPPORT</text>
<text class="T r" style="font-size:16.1px" x="658" y="62.5" textLength="127" lengthAdjust="spacingAndGlyphs">TO INSURGENT</text>
<text class="T r" style="font-size:16.1px" x="658" y="81" textLength="84" lengthAdjust="spacingAndGlyphs">FACTIONS</text>
<rect class="tb" x="770" y="175" width="116" height="19" rx="3"/>
<text class="T r" style="font-size:18px" x="773" y="190" textLength="110" lengthAdjust="spacingAndGlyphs">INSURGENTS</text>
<rect class="tb" x="912" y="203" width="104" height="19" rx="3"/>
<text class="T o" style="font-size:18px" x="915" y="218" textLength="98" lengthAdjust="spacingAndGlyphs">NARCOTICS</text>
<rect class="tb" x="35" y="230" width="116" height="58" rx="3"/>
<text class="T k" x="38" y="245" textLength="99" lengthAdjust="spacingAndGlyphs">COALITION</text>
<text class="T k" x="38" y="264.5" textLength="109" lengthAdjust="spacingAndGlyphs">CAPACITY &amp;</text>
<text class="T k" x="40" y="284" textLength="100" lengthAdjust="spacingAndGlyphs">PRIORITIES</text>
<rect class="tb" x="135" y="303" width="88" height="38" rx="3"/>
<text class="T b" style="font-size:16.5px" x="138" y="318" textLength="80" lengthAdjust="spacingAndGlyphs">CENTRAL</text>
<text class="T b" style="font-size:16.5px" x="138" y="337" textLength="54" lengthAdjust="spacingAndGlyphs">GOV'T</text>
<rect class="tb" x="273" y="278" width="138" height="57" rx="3"/>
<text class="T b" style="font-size:16.5px" x="276" y="293" textLength="86" lengthAdjust="spacingAndGlyphs">OVERALL</text>
<text class="T b" style="font-size:16.5px" x="276" y="312" textLength="131" lengthAdjust="spacingAndGlyphs">GOVERNMENT</text>
<text class="T b" style="font-size:16.5px" x="276" y="331" textLength="91" lengthAdjust="spacingAndGlyphs">CAPACITY</text>
<rect class="tb" x="480" y="270" width="130" height="57" rx="3"/>
<text class="TB" style="font-size:16px;fill:#0a850a" x="483" y="286" textLength="117" lengthAdjust="spacingAndGlyphs">POPULATION</text>
<text class="TB" style="font-size:16px;fill:#0a850a" x="483" y="304.5" textLength="115" lengthAdjust="spacingAndGlyphs">CONDITIONS</text>
<text class="TB" style="font-size:16px;fill:#0a850a" x="483" y="323" textLength="95" lengthAdjust="spacingAndGlyphs">&amp; BELIEFS</text>
<rect class="tb" x="670" y="330" width="123" height="40" rx="3"/>
<text class="TB" style="font-size:17.4px;fill:#0a800a" x="673" y="346" textLength="117" lengthAdjust="spacingAndGlyphs">POPULAR</text>
<text class="TB" style="font-size:17.4px;fill:#0a800a" x="673" y="366" textLength="117" lengthAdjust="spacingAndGlyphs">SUPPORT</text>
<rect class="tb" x="67" y="408" width="100" height="54" rx="3"/>
<text class="T k" style="font-size:15.6px" x="70" y="422" textLength="93" lengthAdjust="spacingAndGlyphs">COALITION</text>
<text class="T k" style="font-size:15.6px" x="70" y="440" textLength="89" lengthAdjust="spacingAndGlyphs">DOMESTIC</text>
<text class="T k" style="font-size:15.6px" x="70" y="458" textLength="80" lengthAdjust="spacingAndGlyphs">SUPPORT</text>
<rect class="tb" x="249" y="429" width="127" height="38" rx="3"/>
<text class="T b" style="font-size:16.5px" x="253" y="444" textLength="59" lengthAdjust="spacingAndGlyphs">TRIBAL</text>
<text class="T b" style="font-size:16.5px" x="252" y="463" textLength="120" lengthAdjust="spacingAndGlyphs">GOVERNANCE</text>
<rect class="tb" x="712" y="498" width="180" height="58" rx="3"/>
<text class="TB lg" style="font-size:16.5px" x="715" y="514" textLength="175" lengthAdjust="spacingAndGlyphs">INFRASTRUCTURE,</text>
<text class="TB lg" style="font-size:16.5px" x="715" y="533" textLength="112" lengthAdjust="spacingAndGlyphs">SERVICES &amp;</text>
<text class="TB lg" style="font-size:16.5px" x="715" y="552" textLength="94" lengthAdjust="spacingAndGlyphs">ECONOMY</text>
</g>
</svg>
